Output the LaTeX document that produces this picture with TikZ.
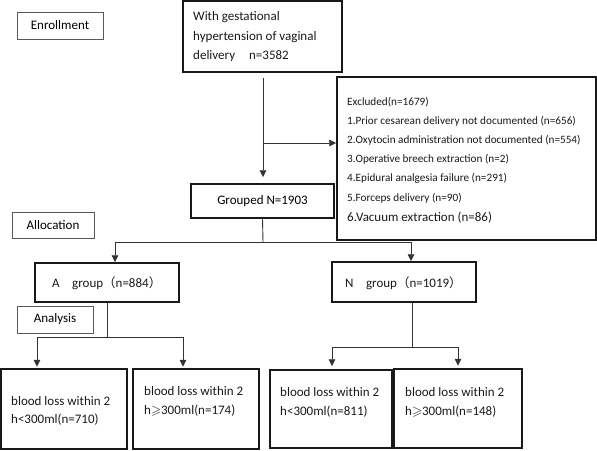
\documentclass[tikz,border=0pt]{standalone}
\usepackage{fontspec}
\setmainfont{Carlito}
\newfontfamily\cjk{Noto Sans CJK SC}
\usepackage{amssymb}
\usetikzlibrary{arrows.meta}
\newcommand{\fwl}{{\cjk\fontsize{12.5}{14}\selectfont （}}
\newcommand{\fwr}{{\cjk\fontsize{12.5}{14}\selectfont ）}}
\begin{document}
\begin{tikzpicture}[x=1pt,y=-1pt,
  mainbox/.style={draw=black!90, line width=1.5pt, inner sep=0pt},
  labbox/.style={draw=black!65, line width=1pt, inner sep=0pt},
  conn/.style={draw=black!80, line width=0.9pt},
  arr/.style={conn, -{Triangle[length=7pt,width=6.5pt]}},
  txt/.style={inner sep=0pt, anchor=base west, text=black!90},
  f13/.style={font=\fontsize{13}{15}\selectfont},
  fex/.style={font=\fontsize{11.2}{13}\selectfont},
  fvac/.style={font=\fontsize{13}{15}\selectfont},
  fbl/.style={font=\fontsize{13}{15}\selectfont}]
\useasboundingbox (0,0) rectangle (597,450);
% boxes
\node[labbox, minimum width=86pt, minimum height=27pt, f13] (enroll) at (60,25.5) {Enrollment};
\node[mainbox, minimum width=159pt, minimum height=71pt] (top) at (262.5,36.5) {};
\node[mainbox, minimum width=259pt, minimum height=163pt] (excl) at (466.5,158.5) {};
\node[mainbox, minimum width=143pt, minimum height=34pt, f13] (grouped) at (262.5,201) {Grouped N=1903};
\node[labbox, minimum width=82pt, minimum height=26pt, f13] (alloc) at (53,225) {Allocation};
\node[mainbox, minimum width=144pt, minimum height=39pt] (agrp) at (107,282.5) {};
\node[mainbox, minimum width=144pt, minimum height=40pt] (ngrp) at (404,282) {};
\node[labbox, minimum width=76pt, minimum height=27pt, f13] (analysis) at (55,319.5) {Analysis};
\node[mainbox, minimum width=126pt, minimum height=80pt] (b1) at (64,409) {};
\node[mainbox, minimum width=126pt, minimum height=80pt] (b2) at (196,409) {};
\node[mainbox, minimum width=122pt, minimum height=78pt] (b3) at (331,409) {};
\node[mainbox, minimum width=128pt, minimum height=79pt] (b4) at (458,408.5) {};
% texts
\node[txt, f13] (t1) at (193,20) {With gestational};
\node[txt, f13] (t2) at (193,40) {hypertension of vaginal};
\node[txt, f13] (t3) at (193,59) {delivery\hspace{14pt}n=3582};
\node[txt, fex] (e0) at (347,105.5) {Excluded(n=1679)};
\node[txt, fex] (e1) at (347,124.5) {1.Prior cesarean delivery not documented (n=656)};
\node[txt, fex] (e2) at (347,143.5) {2.Oxytocin administration not documented (n=554)};
\node[txt, fex] (e3) at (347,162.5) {3.Operative breech extraction (n=2)};
\node[txt, fex] (e4) at (347,181.5) {4.Epidural analgesia failure (n=291)};
\node[txt, fex] (e5) at (347,201.5) {5.Forceps delivery (n=90)};
\node[txt, fvac] (e6) at (347,221) {6.Vacuum extraction (n=86)};
\node[txt, f13] (at) at (52,287) {A\hspace{12.5pt}group\fwl n=884\fwr};
\node[txt, f13] (nt) at (345,287) {N\hspace{12.5pt}group\fwl n=1019\fwr};
\node[txt, fbl] (b1a) at (11,405) {blood loss within 2};
\node[txt, fbl] (b1b) at (11,423) {h<300ml(n=710)};
\node[txt, fbl] (b2a) at (144,395) {blood loss within 2};
\node[txt, fbl] (b2b) at (144,414) {h$\geqslant$300ml(n=174)};
\node[txt, fbl] (b3a) at (280,396) {blood loss within 2};
\node[txt, fbl] (b3b) at (280,415) {h<300ml(n=811)};
\node[txt, fbl] (b4a) at (405,396) {blood loss within 2};
\node[txt, fbl] (b4b) at (405,415) {h$\geqslant$300ml(n=148)};
% connectors
\draw[arr, shorten <=5pt, shorten >=6pt] ([xshift=0.5pt]top.south) -- ([xshift=0.5pt]grouped.north);
\coordinate (jx) at (263.5,143);
\draw[arr] (jx) -- (jx -| excl.west);
\coordinate (g2) at (263,242);
\draw[conn] (grouped.south) -- (g2);
\draw[arr] (g2) -| ([xshift=8pt]agrp.north);
\draw[arr] (g2) -| ([xshift=7pt]ngrp.north);
\coordinate (a2) at (107.5,337);
\draw[conn] ([xshift=0.5pt]agrp.south) -- (a2);
\draw[arr, shorten >=1.5pt] (a2) -| ([xshift=-27pt]b1.north);
\draw[arr, shorten >=1.5pt] (a2) -| ([xshift=-13pt]b2.north);
\coordinate (n2) at (412,347);
\draw[conn] ([xshift=8pt]ngrp.south) -- (n2);
\draw[arr, shorten >=3pt] (n2) -| ([xshift=1pt]b3.north);
\draw[arr, shorten >=2.5pt] (n2) -| (b4.north);
\end{tikzpicture}
\end{document}
